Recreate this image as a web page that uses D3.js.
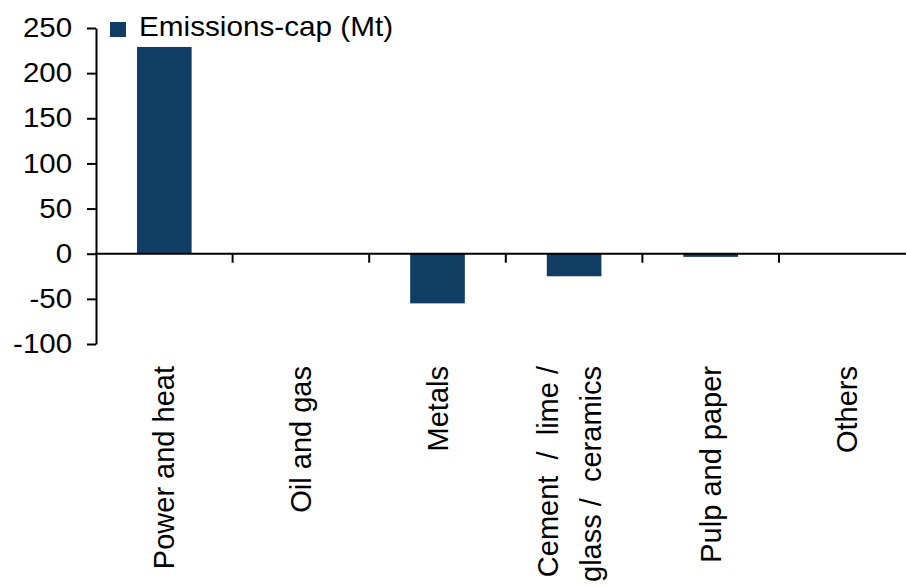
<!DOCTYPE html>
<html>
<head>
<meta charset="utf-8">
<script src="https://cdn.jsdelivr.net/npm/d3@7"></script>
<style>
  body { margin: 0; background: #fff; }
  text { font-family: "Liberation Sans", Arial, sans-serif; fill: #000; }
</style>
</head>
<body>
<svg id="chart" width="906" height="587"></svg>
<script>
var categories = ["Power and heat", "Oil and gas", "Metals", "Cement  /  lime /|glass /  ceramics", "Pulp and paper", "Others"];
var values = [229, 0, -55, -25, -3.5, 0];
var yTicks = [-100, -50, 0, 50, 100, 150, 200, 250];
var seriesName = "Emissions-cap (Mt)";

var svg = d3.select("#chart");
var barColor = "#0f3d63";
var stretch = 1.09;

var x = d3.scaleBand().domain(categories).range([96, 915.6]).padding(0);
var y = d3.scaleLinear().domain([-100, 250]).range([344, 28]);

// bars
svg.append("g")
    .selectAll("rect")
    .data(values)
    .enter()
    .append("rect")
        .attr("x", function(d, i) { return x(categories[i]) + x.bandwidth() * 0.3; })
        .attr("width", x.bandwidth() * 0.4)
        .attr("y", function(d) { return y(Math.max(0, d)); })
        .attr("height", function(d) { return Math.abs(y(d) - y(0)); })
        .attr("fill", barColor);

// y axis
var yAxis = d3.axisLeft(y)
        .tickValues(yTicks)
        .tickFormat(function(d) { return String(d); })
        .tickSize(9)
        .tickSizeOuter(0)
        .tickPadding(15);

var yg = svg.append("g")
    .attr("transform", "translate(96,0)")
    .call(yAxis);
yg.select(".domain").attr("stroke", "#000").attr("stroke-width", 2);
yg.selectAll(".tick line").attr("stroke", "#000").attr("stroke-width", 2);
yg.selectAll(".tick text")
    .style("font-size", "27px")
    .attr("font-family", null)
    .attr("x", 0)
    .attr("transform", "translate(-24,0) scale(" + stretch + ",1)");

// x axis at zero
svg.append("line")
    .attr("x1", 95).attr("x2", 906)
    .attr("y1", y(0)).attr("y2", y(0))
    .attr("stroke", "#000").attr("stroke-width", 2);

svg.append("g")
    .selectAll("line")
    .data(categories.slice(1))
    .enter()
    .append("line")
        .attr("x1", function(d) { return x(d); })
        .attr("x2", function(d) { return x(d); })
        .attr("y1", y(0))
        .attr("y2", y(0) + 9)
        .attr("stroke", "#000").attr("stroke-width", 2);

// category labels, rotated
var labels = svg.append("g")
    .selectAll("g")
    .data(categories)
    .enter()
    .append("g")
        .attr("transform", function(d) {
            return "translate(" + (x(d) + x.bandwidth() / 2) + ",366) rotate(-90)";
        });

labels.append("text")
    .attr("text-anchor", "end")
    .style("font-size", "29px")
    .style("white-space", "pre")
    .each(function(d) {
        var lines = d.split("|");
        var t = d3.select(this);
        var offs = lines.length == 1 ? [10] : [-16, 27];
        lines.forEach(function(l, k) {
            t.append("tspan").attr("x", 0).attr("y", offs[k]).text(l);
        });
    });

// legend
svg.append("rect")
    .attr("x", 110).attr("y", 22)
    .attr("width", 16).attr("height", 15)
    .attr("fill", barColor);
svg.append("text")
    .attr("transform", "translate(139,36) scale(1.1,1)")
    .style("font-size", "27px")
    .text(seriesName);
</script>
</body>
</html>
